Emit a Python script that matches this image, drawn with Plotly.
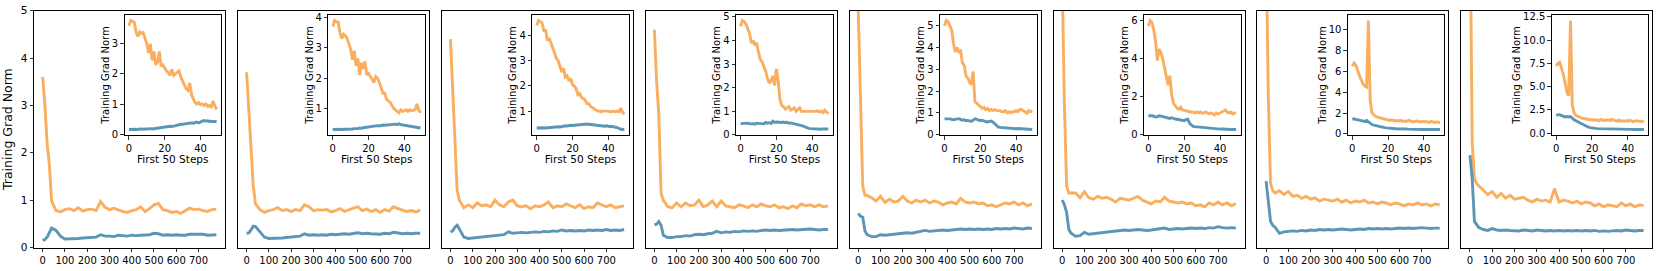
import plotly.graph_objects as go

# ---------------- data ----------------
inset_steps = list(range(50))
main_head_steps = [0, 10, 20, 30, 40]
main_tail_steps = list(range(60, 781, 20))

inset_orange = [
    [3.6,3.78,3.75,3.72,3.4,3.25,3.4,3.35,3.38,3.2,3.0,2.7,3.0,2.45,2.75,2.3,2.4,2.75,2.25,2.3,2.2,2.1,2.05,1.95,2.15,1.95,2.0,2.05,2.1,1.9,1.75,1.6,1.5,1.45,1.7,1.3,1.15,1.05,1.0,1.05,0.98,1.0,0.95,1.0,0.92,0.95,0.88,1.1,0.95,0.82],
    [3.7,3.9,3.85,3.85,3.5,3.3,3.45,3.4,3.3,3.1,2.95,2.6,2.9,2.4,2.65,2.1,2.5,2.3,2.55,2.1,2.15,2.05,1.95,1.85,2.05,2.0,1.85,1.7,1.5,1.5,1.3,1.25,1.2,1.1,1.0,0.95,0.9,0.85,0.95,0.9,0.92,0.95,0.9,0.95,0.92,0.93,0.95,1.15,0.95,0.85],
    [4.4,4.6,4.55,4.5,4.2,4.2,3.8,3.9,3.7,3.5,3.3,3.1,3.0,2.75,2.55,2.7,2.35,2.4,2.2,2.3,2.05,2.0,1.9,1.65,1.7,1.55,1.5,1.45,1.3,1.3,1.2,1.15,1.1,1.05,1.0,1.0,0.98,1.0,1.0,0.98,1.0,0.97,1.0,1.0,0.98,1.0,0.97,1.12,0.95,0.88],
    [4.6,4.85,4.8,4.7,4.5,4.3,3.9,4.0,3.8,3.9,3.5,3.2,3.1,2.9,2.7,2.4,2.2,2.3,2.5,2.1,2.8,2.3,1.5,1.25,1.2,1.1,1.15,1.2,1.05,1.1,1.15,1.0,1.1,1.15,1.0,1.0,0.98,1.0,1.0,0.97,1.0,0.98,1.0,1.02,0.98,1.0,0.95,1.05,0.95,0.9],
    [5.0,5.25,5.2,5.0,4.8,4.2,3.8,4.0,3.8,3.85,3.3,3.2,2.7,2.6,2.4,2.3,2.9,1.5,1.45,1.35,1.3,1.2,1.25,1.15,1.2,1.1,1.15,1.1,1.15,1.1,1.1,1.1,1.05,1.05,1.1,1.0,1.05,1.0,1.05,1.05,1.1,1.05,1.15,1.15,1.1,1.05,0.98,1.1,1.05,1.1],
    [5.7,6.0,5.9,5.5,4.9,3.9,4.5,4.3,4.0,3.5,3.0,2.6,3.1,2.1,1.65,1.5,1.4,1.35,1.45,1.3,1.3,1.25,1.25,1.2,1.2,1.2,1.15,1.2,1.15,1.2,1.15,1.15,1.2,1.15,1.1,1.15,1.1,1.05,1.15,1.1,1.15,1.2,1.25,1.3,1.2,1.15,1.2,1.1,1.15,1.15],
    [6.5,6.8,6.6,6.0,5.6,5.2,4.8,4.6,4.5,10.9,3.2,2.0,1.8,1.7,1.6,1.55,1.5,1.45,1.4,1.4,1.35,1.3,1.35,1.3,1.25,1.3,1.25,1.3,1.2,1.25,1.2,1.25,1.3,1.2,1.15,1.2,1.25,1.2,1.15,1.2,1.15,1.2,1.15,1.1,1.2,1.15,1.1,1.15,1.1,1.1],
    [7.2,7.5,7.6,7.0,6.3,5.4,4.4,4.0,12.1,3.0,2.2,1.9,1.8,1.7,1.65,1.6,1.55,1.5,1.5,1.45,1.45,1.4,1.45,1.4,1.35,1.5,1.4,1.35,1.4,1.45,1.35,1.5,1.4,1.35,1.3,1.4,1.3,1.35,1.3,1.35,1.3,1.4,1.3,1.25,1.3,1.35,1.3,1.25,1.3,1.2],
]

inset_blue = [
    [0.15,0.16,0.16,0.16,0.15,0.16,0.16,0.17,0.16,0.17,0.17,0.17,0.18,0.17,0.18,0.18,0.19,0.2,0.2,0.21,0.22,0.23,0.24,0.26,0.25,0.27,0.28,0.3,0.31,0.32,0.33,0.34,0.33,0.35,0.36,0.37,0.36,0.38,0.4,0.37,0.41,0.43,0.45,0.43,0.44,0.42,0.43,0.41,0.42,0.41],
    [0.3,0.31,0.3,0.31,0.3,0.3,0.31,0.3,0.31,0.32,0.31,0.32,0.33,0.32,0.33,0.35,0.34,0.36,0.37,0.38,0.37,0.39,0.4,0.41,0.42,0.43,0.42,0.44,0.45,0.44,0.45,0.46,0.47,0.46,0.47,0.48,0.47,0.49,0.46,0.45,0.44,0.43,0.42,0.41,0.4,0.39,0.38,0.37,0.36,0.35],
    [0.33,0.34,0.33,0.35,0.34,0.33,0.34,0.35,0.34,0.36,0.35,0.36,0.38,0.37,0.39,0.4,0.42,0.41,0.43,0.44,0.43,0.44,0.45,0.46,0.45,0.47,0.46,0.48,0.49,0.48,0.47,0.46,0.45,0.44,0.45,0.43,0.42,0.41,0.4,0.42,0.39,0.38,0.4,0.37,0.36,0.35,0.3,0.28,0.27,0.28],
    [0.48,0.49,0.47,0.48,0.5,0.47,0.49,0.48,0.46,0.5,0.49,0.48,0.5,0.47,0.53,0.5,0.52,0.49,0.58,0.53,0.55,0.54,0.56,0.53,0.55,0.52,0.54,0.5,0.51,0.49,0.47,0.46,0.45,0.44,0.42,0.38,0.34,0.3,0.28,0.27,0.26,0.25,0.24,0.25,0.23,0.24,0.25,0.24,0.23,0.25],
    [0.72,0.73,0.71,0.72,0.7,0.68,0.7,0.72,0.73,0.7,0.66,0.68,0.64,0.65,0.62,0.6,0.66,0.72,0.7,0.65,0.64,0.66,0.62,0.6,0.58,0.6,0.62,0.58,0.5,0.42,0.35,0.33,0.32,0.31,0.3,0.3,0.29,0.28,0.29,0.28,0.27,0.28,0.27,0.26,0.25,0.26,0.25,0.24,0.24,0.23],
    [1.0,1.02,1.0,0.98,0.94,0.96,1.0,0.98,0.95,0.92,0.9,0.88,0.86,0.9,0.85,0.83,0.82,0.8,0.78,0.76,0.74,0.8,0.82,0.6,0.5,0.45,0.43,0.42,0.4,0.39,0.38,0.37,0.38,0.36,0.35,0.34,0.33,0.32,0.31,0.32,0.3,0.31,0.3,0.29,0.3,0.29,0.28,0.29,0.28,0.28],
    [1.4,1.45,1.4,1.35,1.3,1.3,1.25,1.2,1.3,1.15,1.0,0.9,0.85,0.8,0.75,0.7,0.65,0.62,0.6,0.58,0.55,0.55,0.52,0.5,0.5,0.48,0.49,0.47,0.48,0.46,0.47,0.46,0.45,0.46,0.45,0.44,0.45,0.44,0.43,0.44,0.43,0.44,0.43,0.42,0.43,0.42,0.43,0.42,0.42,0.42],
    [1.95,2.0,2.0,1.9,1.85,1.75,1.8,1.75,1.8,1.6,1.45,1.35,1.25,1.15,1.0,0.9,0.8,0.7,0.65,0.6,0.55,0.55,0.52,0.5,0.5,0.5,0.48,0.5,0.47,0.46,0.47,0.45,0.46,0.45,0.44,0.45,0.44,0.43,0.44,0.43,0.42,0.43,0.42,0.41,0.42,0.41,0.4,0.41,0.4,0.4],
]

# main curves after step 50 (steps 60..780, every 20)
main_orange_tail = [
    [0.78,0.75,0.80,0.82,0.78,0.84,0.77,0.80,0.81,0.78,0.97,0.85,0.80,0.83,0.79,0.76,0.74,0.78,0.80,0.86,0.76,0.82,0.90,0.93,0.80,0.78,0.74,0.76,0.72,0.78,0.83,0.80,0.81,0.78,0.76,0.80,0.81],
    [0.80,0.74,0.78,0.80,0.84,0.78,0.80,0.76,0.80,0.78,0.90,0.86,0.78,0.80,0.79,0.80,0.75,0.78,0.82,0.76,0.80,0.83,0.86,0.78,0.81,0.76,0.80,0.74,0.80,0.77,0.86,0.82,0.79,0.76,0.78,0.75,0.79],
    [0.84,0.90,0.84,0.94,0.88,0.90,0.86,1.00,0.90,0.86,0.96,1.00,0.88,0.86,0.88,0.82,0.88,0.86,0.90,0.96,0.84,0.88,0.86,0.92,0.88,0.84,0.90,0.82,0.86,0.84,0.94,0.90,0.86,0.90,0.84,0.86,0.88],
    [0.86,0.84,0.94,0.86,0.94,0.88,0.90,1.00,0.86,0.90,0.98,0.86,0.98,0.88,0.86,0.84,0.90,0.88,0.84,0.90,0.86,0.92,0.88,0.86,0.90,0.84,0.86,0.82,0.88,0.84,0.92,0.88,0.90,0.86,0.90,0.86,0.88],
    [1.05,0.98,1.08,0.95,1.02,0.96,0.98,1.08,0.98,0.94,1.00,0.96,1.00,0.94,0.98,0.96,0.90,0.94,0.96,0.92,1.04,0.96,0.94,0.96,0.92,0.94,0.88,0.90,0.86,0.90,0.94,0.92,0.96,0.90,0.94,0.88,0.92],
    [1.15,1.05,1.18,1.05,1.02,1.08,1.04,1.06,1.02,0.96,1.04,1.02,1.00,1.04,1.08,1.00,0.96,0.92,0.98,0.96,1.06,0.98,0.96,0.94,0.96,0.92,0.94,0.88,0.90,0.86,0.94,0.90,0.96,0.90,0.94,0.88,0.93],
    [1.20,1.12,1.18,1.08,1.10,1.04,1.08,1.02,1.05,0.98,1.02,1.00,0.98,1.02,0.96,1.00,0.94,0.98,0.96,1.00,0.94,0.96,0.92,0.96,0.94,0.90,0.94,0.92,0.88,0.92,0.90,0.94,0.90,0.92,0.88,0.92,0.90],
    [1.22,1.12,1.18,1.06,1.14,1.04,1.10,1.02,1.04,1.06,1.00,0.96,1.02,0.98,1.00,0.96,1.24,0.96,1.00,0.98,0.94,0.98,0.92,0.96,0.94,0.88,0.92,0.86,0.90,0.88,0.86,0.94,0.88,0.92,0.86,0.90,0.89],
]
main_blue_tail = [
    [0.36,0.24,0.18,0.18,0.19,0.19,0.20,0.21,0.21,0.22,0.27,0.24,0.24,0.23,0.26,0.25,0.24,0.26,0.25,0.26,0.26,0.27,0.30,0.29,0.26,0.27,0.26,0.27,0.26,0.26,0.28,0.28,0.27,0.28,0.26,0.27,0.27],
    [0.33,0.22,0.19,0.19,0.20,0.20,0.21,0.22,0.23,0.24,0.29,0.26,0.27,0.26,0.27,0.26,0.28,0.27,0.28,0.29,0.28,0.30,0.31,0.29,0.30,0.29,0.29,0.28,0.30,0.29,0.32,0.30,0.29,0.30,0.29,0.30,0.30],
    [0.22,0.19,0.20,0.21,0.21,0.22,0.24,0.24,0.26,0.27,0.33,0.30,0.31,0.32,0.31,0.32,0.33,0.32,0.34,0.33,0.35,0.34,0.37,0.35,0.36,0.35,0.36,0.35,0.37,0.36,0.37,0.36,0.38,0.36,0.37,0.36,0.38],
    [0.21,0.21,0.23,0.23,0.25,0.24,0.27,0.28,0.27,0.29,0.30,0.34,0.31,0.33,0.32,0.34,0.33,0.35,0.34,0.35,0.34,0.36,0.37,0.36,0.37,0.36,0.37,0.37,0.38,0.37,0.38,0.38,0.39,0.38,0.37,0.38,0.38],
    [0.23,0.23,0.27,0.26,0.27,0.27,0.29,0.30,0.31,0.30,0.32,0.34,0.36,0.34,0.35,0.35,0.37,0.36,0.37,0.38,0.39,0.38,0.39,0.38,0.39,0.38,0.39,0.38,0.40,0.39,0.40,0.39,0.41,0.40,0.39,0.41,0.40],
    [0.24,0.25,0.32,0.28,0.29,0.30,0.31,0.32,0.33,0.34,0.35,0.37,0.36,0.37,0.38,0.37,0.36,0.37,0.38,0.39,0.41,0.38,0.39,0.40,0.39,0.40,0.41,0.40,0.41,0.40,0.42,0.41,0.44,0.42,0.41,0.42,0.41],
    [0.30,0.33,0.34,0.35,0.34,0.36,0.35,0.37,0.36,0.38,0.37,0.38,0.37,0.38,0.39,0.38,0.37,0.38,0.39,0.38,0.40,0.39,0.40,0.39,0.40,0.39,0.40,0.41,0.40,0.41,0.40,0.41,0.42,0.41,0.40,0.41,0.41],
    [0.38,0.36,0.40,0.37,0.36,0.37,0.36,0.36,0.35,0.37,0.36,0.35,0.37,0.36,0.35,0.36,0.35,0.36,0.35,0.36,0.35,0.36,0.35,0.36,0.35,0.36,0.34,0.35,0.34,0.35,0.36,0.35,0.37,0.36,0.35,0.36,0.36],
]

main_xticks = [0, 100, 200, 300, 400, 500, 600, 700]
main_yticks = [0, 1, 2, 3, 4, 5]
inset_xticks = [0, 20, 40]
inset_yticks = [
    [0, 1, 2, 3],
    [1, 2, 3, 4],
    [1, 2, 3, 4],
    [0, 1, 2, 3, 4, 5],
    [0, 1, 2, 3, 4, 5],
    [0, 2, 4, 6],
    [0, 2, 4, 6, 8, 10],
    [0, 2.5, 5, 7.5, 10, 12.5],
]
inset_ytick_text = [
    ["0", "1", "2", "3"],
    ["1", "2", "3", "4"],
    ["1", "2", "3", "4"],
    ["0", "1", "2", "3", "4", "5"],
    ["0", "1", "2", "3", "4", "5"],
    ["0", "2", "4", "6"],
    ["0", "2", "4", "6", "8", "10"],
    ["0.0", "2.5", "5.0", "7.5", "10.0", "12.5"],
]
ylabel = "Training Grad Norm"
inset_xlabel = "First 50 Steps"

# ---------------- styling / layout ----------------
ORANGE = "#F9A54E"
BLUE = "#4A8BAF"
W, H = 1661, 271
FONT = "DejaVu Sans"
panel_left0, panel_pitch, panel_w = 34.0, 203.9, 191.0
main_top, main_bot = 10.7, 247.5
inset_l_off, inset_r_off = 90.5, 187.0
inset_top, inset_bot = 15.0, 135.0


def px_x(a, b):
    return [a / W, b / W]


def px_y(top, bot):
    return [1 - bot / H, 1 - top / H]


fig = go.Figure()
layout = {}
LW = 2.9
OP = 0.9

for i in range(8):
    m = 2 * i + 1
    s = 2 * i + 2
    mx = "x" if m == 1 else f"x{m}"
    my = "y" if m == 1 else f"y{m}"
    sx, sy = f"x{s}", f"y{s}"

    main_x = main_head_steps + main_tail_steps
    mo = [inset_orange[i][k] for k in main_head_steps] + main_orange_tail[i]
    mb = [inset_blue[i][k] for k in main_head_steps] + main_blue_tail[i]
    fig.add_trace(go.Scatter(x=main_x, y=mo, mode="lines", line=dict(color=ORANGE, width=LW),
                             opacity=OP, xaxis=mx, yaxis=my, showlegend=False, hoverinfo="skip"))
    fig.add_trace(go.Scatter(x=main_x, y=mb, mode="lines", line=dict(color=BLUE, width=LW),
                             opacity=OP, xaxis=mx, yaxis=my, showlegend=False, hoverinfo="skip"))
    fig.add_trace(go.Scatter(x=inset_steps, y=inset_orange[i], mode="lines", line=dict(color=ORANGE, width=LW),
                             opacity=OP, xaxis=sx, yaxis=sy, showlegend=False, hoverinfo="skip"))
    fig.add_trace(go.Scatter(x=inset_steps, y=inset_blue[i], mode="lines", line=dict(color=BLUE, width=LW),
                             opacity=OP, xaxis=sx, yaxis=sy, showlegend=False, hoverinfo="skip"))

    left = panel_left0 + panel_pitch * i
    axis_common = dict(showline=True, mirror=True, linecolor="black", linewidth=1,
                       showgrid=False, zeroline=False, ticks="outside", ticklen=3.5,
                       tickwidth=0.8, tickcolor="black", automargin=False,
                       tickfont=dict(family=FONT, size=10, color="black"))
    xk = "xaxis" if m == 1 else f"xaxis{m}"
    yk = "yaxis" if m == 1 else f"yaxis{m}"
    layout[xk] = dict(domain=px_x(left, left + panel_w), range=[-39, 819], anchor=my,
                      tickvals=main_xticks, **axis_common)
    ycfg = dict(domain=px_y(main_top, main_bot), range=[0, 5], anchor=mx, **axis_common)
    if i == 0:
        ycfg.update(tickvals=main_yticks,
                    title=dict(text=ylabel, font=dict(family=FONT, size=12.5, color="black"), standoff=10))
        ycfg["tickfont"] = dict(family=FONT, size=10.5, color="black")
    else:
        ycfg.update(showticklabels=False, ticks="")
    layout[yk] = ycfg

    # inset
    vals = inset_orange[i] + inset_blue[i]
    lo, hi = min(vals), max(vals)
    pad = 0.05 * (hi - lo)
    layout[f"xaxis{s}"] = dict(domain=px_x(left + inset_l_off, left + inset_r_off), range=[-2.45, 51.45],
                               anchor=sy, tickvals=inset_xticks,
                               title=dict(text=inset_xlabel, font=dict(family=FONT, size=10.5, color="black"), standoff=0),
                               **axis_common)
    layout[f"yaxis{s}"] = dict(domain=px_y(inset_top, inset_bot), range=[lo - pad, hi + pad], anchor=sx,
                               tickvals=inset_yticks[i], ticktext=inset_ytick_text[i],
                               title=dict(text=ylabel, font=dict(family=FONT, size=10, color="black"), standoff=0),
                               **axis_common)

fig.update_layout(width=W, height=H, autosize=False, margin=dict(l=0, r=0, t=0, b=0),
                  paper_bgcolor="white", plot_bgcolor="white", showlegend=False,
                  hovermode=False, font=dict(family=FONT, color="black"), **layout)

fig.write_html("out.html", config={"displayModeBar": False, "staticPlot": True},
               post_script="document.body.style.margin='0px';")
